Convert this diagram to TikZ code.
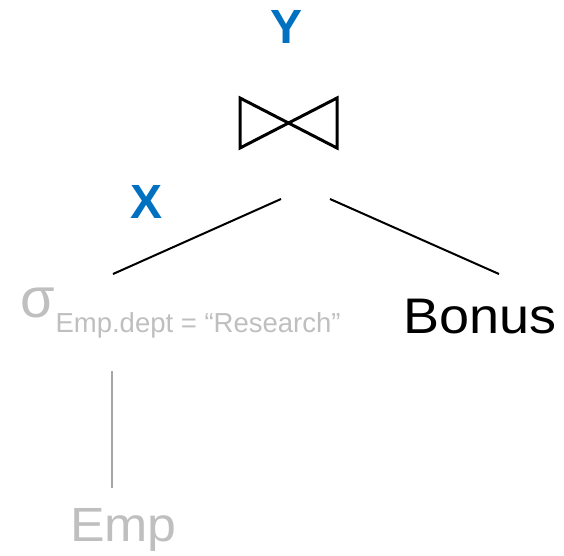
\documentclass[tikz,border=0pt]{standalone}
\usepackage{fontspec}
\setmainfont{Liberation Sans}
\definecolor{hlblue}{RGB}{0,112,192}
\definecolor{fadetext}{RGB}{191,191,191}
\definecolor{fadeline}{RGB}{166,166,166}
\tikzset{
  lbl/.style={inner sep=0pt, outer sep=0pt},
  tag/.style={lbl, text=hlblue, font=\fontsize{48}{56}\selectfont\bfseries, anchor=base},
  rel/.style={lbl, anchor=base west, font=\fontsize{50}{58}\selectfont, xscale=1.08, transform shape},
  edgeline/.style={line width=2pt, black},
  fadeedge/.style={line width=2pt, fadeline},
  bowtie/.style={line width=3pt, black, line join=miter}
}
\begin{document}
\begin{tikzpicture}[x=1pt, y=-1pt]
\useasboundingbox (0,0) rectangle (564,555);
% labels
\node[tag] (Y) at (287,43) {Y};
\node[tag] (X) at (147,218) {X};
% join symbol
\draw[bowtie] (240,98) -- (240,148) -- (337,98) -- (337,148) -- cycle;
\coordinate (joinL) at (281,199);
\coordinate (joinR) at (330,199);
% selection
\node[lbl, anchor=base west, text=fadetext, font=\fontsize{56}{64}\selectfont] (sel) at (20,317)
  {σ\kern1pt\raisebox{-15pt}{\fontsize{27.5}{32}\selectfont Emp.dept = “Research”}};
\coordinate (selTop) at (113,274);
\coordinate (selBot) at (112,371);
% Bonus
\node[rel] (bonus) at (403,333) {Bonus};
\coordinate (bonusTop) at (499,274);
% Emp
\node[rel, text=fadetext, font=\fontsize{48}{56}\selectfont] (emp) at (70,541) {Emp};
\coordinate (empTop) at (112,488);
% edges
\draw[edgeline] (joinL) -- (selTop);
\draw[edgeline] (joinR) -- (bonusTop);
\draw[fadeedge] (selBot) -- (empTop);
\end{tikzpicture}
\end{document}
